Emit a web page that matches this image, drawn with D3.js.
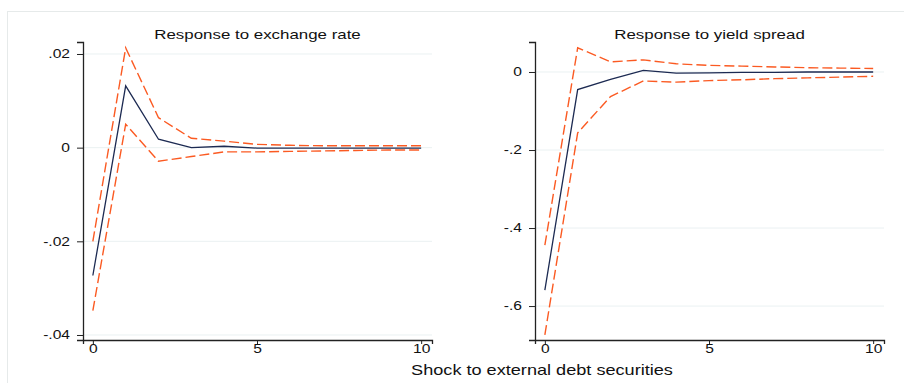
<!DOCTYPE html>
<html>
<head>
<meta charset="utf-8">
<script src="https://cdn.jsdelivr.net/npm/d3@7"></script>
<style>
  body { margin: 0; background: #fff; }
  text { font-family: "Liberation Sans", Arial, sans-serif; fill: #111; }
</style>
</head>
<body>
<div id="graph"></div>
<script>
var steps = [0, 1, 2, 3, 4, 5, 6, 7, 8, 9, 10];

// Response to exchange rate
var fxIrf   = [-0.0273, 0.0132, 0.0018, 0.0000, 0.0003, -0.0001, -0.0001, -0.0001, -0.0001, -0.0001, -0.0001];
var fxUpper = [-0.0200, 0.0213, 0.0064, 0.0020, 0.0014, 0.0007, 0.0005, 0.0004, 0.0004, 0.0004, 0.0004];
var fxLower = [-0.0348, 0.0050, -0.0029, -0.0019, -0.0009, -0.0009, -0.0008, -0.0007, -0.0006, -0.0005, -0.0005];
var fxTicks = [-0.04, -0.02, 0, 0.02];
var fxTickLabels = ['-.04', '-.02', '0', '.02'];

// Response to yield spread
var ysIrf   = [-0.559, -0.045, -0.019, 0.004, -0.003, -0.002, -0.001, -0.001, 0.000, 0.000, 0.000];
var ysUpper = [-0.444, 0.062, 0.026, 0.031, 0.021, 0.017, 0.015, 0.013, 0.011, 0.010, 0.009];
var ysLower = [-0.674, -0.156, -0.063, -0.023, -0.026, -0.022, -0.020, -0.017, -0.015, -0.013, -0.011];
var ysTicks = [-0.6, -0.4, -0.2, 0];
var ysTickLabels = ['-.6', '-.4', '-.2', '0'];

var xTicks = [0, 5, 10];
var xTitle = 'Shock to external debt securities';

var svgWidth = 904;
var svgHeight = 383;
// the original export is stretched sideways, so text is widened to match
var stretch = 'scale(1.3,1)';

var svg = d3.select('#graph')
    .append('svg')
    .attr('width', svgWidth)
    .attr('height', svgHeight);

// outer frame
svg.append('rect')
    .attr('x', 7.5)
    .attr('y', 11.5)
    .attr('width', 920)
    .attr('height', 400)
    .attr('fill', '#fff')
    .attr('stroke', '#e6eaea')
    .attr('stroke-width', 1);

function drawPanel(opts) {
    var x = d3.scaleLinear().domain([-0.3, 10.33]).range([opts.left, opts.right]);
    var y = d3.scaleLinear().domain(opts.yDomain).range([opts.bottom, opts.top]);
    var g = svg.append('g');

    // gridlines
    g.selectAll('line.grid')
        .data(opts.ticks)
        .enter()
        .append('line')
        .attr('class', 'grid')
        .attr('x1', opts.left)
        .attr('x2', opts.right)
        .attr('y1', function(d) { return y(d); })
        .attr('y2', function(d) { return y(d); })
        .attr('stroke', '#eaf1f2')
        .attr('stroke-width', 1);

    var yAxis = d3.axisLeft(y)
        .tickValues(opts.ticks)
        .tickFormat(function(d, i) { return opts.labels[i]; })
        .tickSize(6)
        .tickPadding(4);
    var yg = g.append('g')
        .attr('transform', 'translate(' + opts.left + ',0)')
        .call(yAxis);
    yg.select('.domain').attr('stroke', '#222').attr('stroke-width', 1.3);
    yg.selectAll('.tick line').attr('stroke', '#222');
    yg.selectAll('.tick text')
        .attr('font-size', 12)
        .attr('fill', '#111')
        .attr('transform', stretch);

    var xAxis = d3.axisBottom(x)
        .tickValues(xTicks)
        .tickSize(4)
        .tickPadding(0);
    var xg = g.append('g')
        .attr('transform', 'translate(0,' + opts.bottom + ')')
        .call(xAxis);
    xg.select('.domain').attr('stroke', '#222').attr('stroke-width', 1.3);
    xg.selectAll('.tick line').attr('stroke', '#222');
    xg.selectAll('.tick text')
        .attr('font-size', 12)
        .attr('fill', '#111')
        .attr('transform', stretch);

    var line = d3.line()
        .x(function(d, i) { return x(steps[i]); })
        .y(function(d) { return y(d); });

    [opts.upper, opts.lower].forEach(function(band) {
        g.append('path')
            .datum(band)
            .attr('d', line)
            .attr('fill', 'none')
            .attr('stroke', '#fb5a22')
            .attr('stroke-width', 1.4)
            .attr('stroke-dasharray', '10,4');
    });

    g.append('path')
        .datum(opts.irf)
        .attr('d', line)
        .attr('fill', 'none')
        .attr('stroke', '#1c2a52')
        .attr('stroke-width', 1.3);

    g.append('text')
        .attr('transform', 'translate(' + ((opts.left + opts.right) / 2) + ',39) ' + stretch)
        .attr('text-anchor', 'middle')
        .attr('font-size', 13)
        .text(opts.title);
}

drawPanel({
    left: 83, right: 432, top: 42, bottom: 340,
    yDomain: [-0.04107, 0.02256],
    ticks: fxTicks, labels: fxTickLabels,
    irf: fxIrf, upper: fxUpper, lower: fxLower,
    title: 'Response to exchange rate'
});

drawPanel({
    left: 535, right: 884, top: 42, bottom: 340,
    yDomain: [-0.687, 0.0769],
    ticks: ysTicks, labels: ysTickLabels,
    irf: ysIrf, upper: ysUpper, lower: ysLower,
    title: 'Response to yield spread'
});

svg.append('text')
    .attr('transform', 'translate(542,375) scale(1.25,1)')
    .attr('text-anchor', 'middle')
    .attr('font-size', 14.5)
    .text(xTitle);
</script>
</body>
</html>
